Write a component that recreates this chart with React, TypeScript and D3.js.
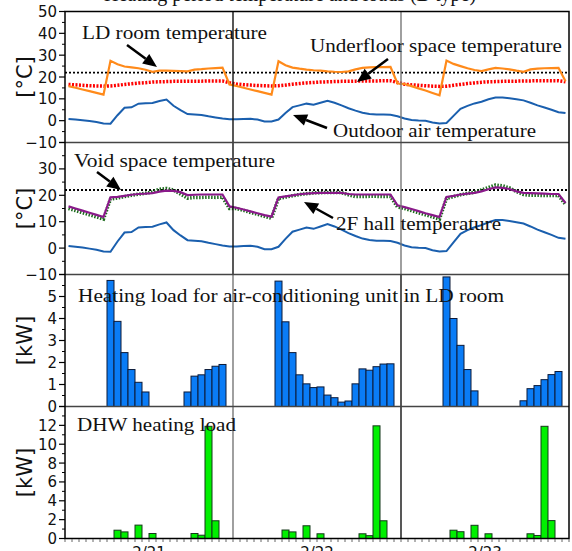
import React from "react";
import * as d3 from "d3";

// hourly values, 3 days x 24 h
const DAYS = ["2/21", "2/22", "2/23"];

const outdoorTemp = [
  0.8, 0.5, 0.2, -0.2, -0.6, -1.3, -1.4, 2.5, 5.9, 6.1, 7.8, 8.0, 8.1, 9.0, 9.7, 6.8, 4.8, 3.0, 2.8, 2.6, 2.0, 1.5, 1.0, 0.6,
  0.6, 0.8, 0.9, 0.5, -0.4, -0.4, 0.5, 3.5, 6.2, 7.0, 7.8, 7.3, 8.2, 9.1, 8.2, 7.0, 5.7, 4.6, 3.6, 3.1, 2.8, 2.8, 2.7, 2.0,
  1.0, 0.3, 0.1, 0.0, -0.8, -1.3, -1.1, 2.2, 5.4, 6.8, 7.9, 8.7, 9.8, 10.6, 10.6, 10.3, 9.8, 9.3, 8.2, 7.0, 6.0, 5.0, 3.9, 3.5,
];

const ldRoomTemp = [
  15.8, 15.1, 14.3, 13.5, 12.7, 11.9, 27.4, 25.8, 24.8, 24.4, 24.0, 23.3, 22.4, 22.9, 22.9, 22.8, 22.7, 22.6, 23.4, 23.6, 23.9, 24.1, 24.3, 16.6,
  15.9, 15.1, 14.3, 13.5, 12.7, 11.9, 27.2, 25.4, 24.3, 23.8, 23.4, 23.1, 22.9, 22.6, 22.4, 22.3, 22.6, 23.5, 24.2, 24.4, 24.5, 24.5, 24.6, 17.0,
  16.8, 15.8, 14.8, 13.8, 12.7, 11.6, 27.5, 26.0, 25.0, 24.0, 23.2, 22.7, 23.5, 24.2, 23.9, 23.5, 22.9, 22.4, 23.5, 23.8, 24.0, 24.1, 24.2, 18.0,
];

const underfloorTemp = [
  16.6, 16.4, 16.2, 16.0, 15.9, 15.8, 15.9, 16.2, 16.6, 16.9, 17.2, 17.4, 17.7, 17.8, 17.9, 18.0, 18.0, 18.1, 18.1, 18.1, 18.2, 18.2, 18.2, 17.4,
  16.8, 16.5, 16.3, 16.1, 16.0, 15.9, 16.0, 16.3, 16.7, 17.0, 17.3, 17.5, 17.7, 17.8, 17.9, 18.0, 18.0, 18.1, 18.2, 18.2, 18.2, 18.3, 18.3, 17.5,
  16.7, 16.4, 16.2, 16.0, 15.8, 15.7, 15.8, 16.2, 16.6, 17.0, 17.3, 17.6, 17.8, 17.9, 18.0, 18.1, 18.1, 18.2, 18.2, 18.3, 18.3, 18.3, 18.3, 17.8,
];

const voidTemp = [
  15.8, 15.0, 14.2, 13.4, 12.6, 11.8, 19.2, 19.4, 19.8, 20.2, 20.5, 20.6, 20.8, 21.4, 21.8, 21.7, 21.2, 20.1, 20.2, 20.3, 20.3, 20.3, 20.3, 15.8,
  15.3, 14.6, 13.9, 13.2, 12.5, 11.9, 19.2, 19.6, 20.0, 20.4, 20.6, 20.8, 20.9, 20.9, 20.9, 20.9, 20.5, 20.3, 20.3, 20.3, 20.3, 20.3, 20.3, 16.2,
  15.5, 14.8, 14.0, 13.2, 12.5, 11.8, 19.4, 19.8, 20.3, 20.6, 20.9, 21.5, 22.3, 23.0, 22.8, 22.4, 21.5, 20.9, 20.8, 20.7, 20.6, 20.5, 20.5, 17.1,
];

const hallTemp = [
  15.0, 14.2, 13.4, 12.6, 11.8, 11.0, 18.6, 19.0, 19.5, 20.0, 20.4, 20.8, 21.3, 22.3, 22.6, 22.0, 20.5, 18.9, 19.2, 19.2, 19.3, 19.2, 19.3, 15.0,
  15.0, 14.3, 13.5, 12.8, 12.0, 11.3, 18.8, 19.3, 19.8, 20.3, 20.6, 20.9, 21.0, 21.1, 21.1, 21.0, 20.2, 19.5, 19.5, 19.6, 19.6, 19.5, 19.6, 15.6,
  15.0, 14.2, 13.4, 12.6, 11.8, 11.0, 18.8, 19.5, 20.2, 20.7, 21.2, 22.0, 23.0, 23.9, 23.6, 22.8, 21.4, 20.3, 20.0, 20.0, 19.9, 19.9, 19.9, 16.5,
];

const setPoint = 22;

const ldLoad = [
  0, 0, 0, 0, 0, 0, 5.73, 3.87, 2.45, 1.68, 1.1, 0.66, 0, 0, 0, 0, 0, 0.66, 1.38, 1.44, 1.68, 1.83, 1.91, 0,
  0, 0, 0, 0, 0, 0, 5.7, 3.85, 2.45, 1.44, 1.03, 0.86, 0.89, 0.52, 0.4, 0.2, 0.25, 1.03, 1.71, 1.65, 1.81, 1.93, 1.94, 0,
  0, 0, 0, 0, 0, 0, 5.89, 4.0, 2.78, 1.68, 0.71, 0, 0, 0, 0, 0, 0, 0.26, 0.81, 0.95, 1.22, 1.45, 1.59, 0,
];

const dhwLoad = [
  0, 0, 0, 0, 0, 0, 0, 0.88, 0.7, 0, 1.42, 0, 0.53, 0, 0, 0, 0, 0, 0.53, 0.35, 11.9, 1.88, 0, 0,
  0, 0, 0, 0, 0, 0, 0, 0.9, 0.7, 0, 1.35, 0, 0.5, 0, 0, 0, 0, 0, 0.5, 0.3, 11.95, 1.88, 0, 0,
  0, 0, 0, 0, 0, 0, 0, 0.88, 0.72, 0, 1.4, 0, 0.5, 0, 0, 0, 0, 0, 0.5, 0.32, 11.9, 1.9, 0, 0,
];

const X0 = 65, X1 = 569;
const SERIF = "'Liberation Serif', 'Times New Roman', serif";
const SANS = "'DejaVu Sans', sans-serif";

function Arrow({ x1, y1, x2, y2 }) {
  const a = Math.atan2(y2 - y1, x2 - x1);
  const L = 14, Wd = 6;
  const bx = x2 - L * Math.cos(a), by = y2 - L * Math.sin(a);
  const px = -Math.sin(a) * Wd, py = Math.cos(a) * Wd;
  return (
    <g>
      <line x1={x1} y1={y1} x2={bx} y2={by} stroke="#000" strokeWidth={2.5} />
      <polygon points={`${x2},${y2} ${bx + px},${by + py} ${bx - px},${by - py}`} fill="#000" />
    </g>
  );
}

function Label({ x, y, w, children, size = 18 }) {
  return (
    <text x={x} y={y} fontFamily={SERIF} fontSize={size} textLength={w} lengthAdjust="spacingAndGlyphs" fill="#111">
      {children}
    </text>
  );
}

function YAxis({ y, labels, ticks, minor, title }) {
  const [b, t] = y.range();
  return (
    <g>
      {ticks.map(v => <line key={"t" + v} x1={59} x2={X0} y1={y(v)} y2={y(v)} stroke="#000" strokeWidth={1.2} />)}
      {minor.map(v => <line key={"m" + v} x1={62} x2={X0} y1={y(v)} y2={y(v)} stroke="#000" strokeWidth={1} />)}
      {labels.map(v => (
        <text key={"l" + v} x={57} y={y(v) + 5.5} textAnchor="end" fontFamily={SANS} fontSize={15} fill="#111">
          {v < 0 ? "\u2212" + Math.abs(v) : v}
        </text>
      ))}
      <text transform={`translate(32,${(b + t) / 2}) rotate(-90)`} textAnchor="middle" fontFamily={SANS} fontSize={21} fill="#111">
        {title}
      </text>
    </g>
  );
}

export default function App() {
  const x = d3.scaleLinear().domain([0, 72]).range([X0, X1]);
  const yT1 = d3.scaleLinear().domain([-10, 50]).range([142.5, 11.5]);
  const yT2 = d3.scaleLinear().domain([-10, 40]).range([274.5, 142.5]);
  const yL = d3.scaleLinear().domain([0, 6]).range([406.5, 274.5]);
  const yD = d3.scaleLinear().domain([0, 14]).range([538.5, 406.5]);

  const path = (y, vals) => d3.line<number>().x((_, i) => x(i + 0.5)).y(d => y(d))(vals);

  const bars = (y, vals, fill, stroke) =>
    vals.map((v, i) => v > 0 ? (
      <rect key={i} x={x(i)} y={y(v)} width={x(i + 1) - x(i)} height={y(0) - y(v)} fill={fill} stroke={stroke} strokeWidth={1} />
    ) : null);

  const panels = [yT1, yT2, yL, yD];
  const dayEdges = [24, 48];

  return (
    <svg width={572} height={551} style={{ position: "absolute", left: 0, top: 0, background: "#fff" }}>
      <rect width={572} height={551} fill="#fff" />
      {/* title sits above the frame and is clipped like in the source figure */}
      <text x={290} y={0.5} textAnchor="middle" fontFamily={SERIF} fontSize={20} fill="#111">
        Heating period temperature and loads (B type)
      </text>

      {/* panel 1 */}
      <line x1={X0} x2={X1} y1={yT1(setPoint)} y2={yT1(setPoint)} stroke="#000" strokeWidth={1.8} strokeDasharray="2,2" />
      <path d={path(yT1, underfloorTemp)} fill="none" stroke="#f00" strokeWidth={3.5} strokeDasharray="2,1.5" />
      <path d={path(yT1, ldRoomTemp)} fill="none" stroke="#ff8a1a" strokeWidth={2.2} />
      <path d={path(yT1, outdoorTemp)} fill="none" stroke="#1a5fae" strokeWidth={2} />

      {/* panel 2 */}
      <line x1={X0} x2={X1} y1={yT2(setPoint)} y2={yT2(setPoint)} stroke="#000" strokeWidth={1.8} strokeDasharray="2,2" />
      <path d={path(yT2, hallTemp)} fill="none" stroke="#1c6b1c" strokeWidth={3.5} strokeDasharray="1.5,1.5" />
      <path d={path(yT2, voidTemp)} fill="none" stroke="#8a1a8a" strokeWidth={2.2} />
      <path d={path(yT2, outdoorTemp)} fill="none" stroke="#1a5fae" strokeWidth={2} />

      {/* panel 3, 4 */}
      {bars(yL, ldLoad, "#0a7cf6", "#0c1a38")}
      {bars(yD, dhwLoad, "#00f000", "#15381a")}

      {/* day separators */}
      {panels.map((y, p) => dayEdges.map((d, k) => (
        <line key={p + "-" + d} x1={x(d)} x2={x(d)} y1={y.range()[1]} y2={y.range()[0]}
          stroke={(p < 2) === (k === 0) ? "#111" : "#777"} strokeWidth={1.4} />
      )))}
      {panels.slice(1).map((y, p) => (
        <line key={"h" + p} x1={X0} x2={X1} y1={y.range()[1]} y2={y.range()[1]} stroke="#444" strokeWidth={1.6} />
      ))}
      <rect x={X0} y={11.5} width={X1 - X0} height={527} fill="none" stroke="#000" strokeWidth={1.5} />
      {d3.range(73).map(i => (
        <line key={"x" + i} x1={x(i)} x2={x(i)} y1={539} y2={542} stroke="#666" strokeWidth={1} />
      ))}

      <YAxis y={yT1} labels={d3.range(-10, 51, 10)} ticks={d3.range(-10, 51, 10)} minor={d3.range(-5, 50, 10)} title="[°C]" />
      <YAxis y={yT2} labels={d3.range(-10, 31, 10)} ticks={d3.range(-10, 41, 10)} minor={d3.range(-5, 40, 10)} title="[°C]" />
      <YAxis y={yL} labels={d3.range(0, 6)} ticks={d3.range(0, 7)} minor={d3.range(0.5, 6, 1)} title="[kW]" />
      <YAxis y={yD} labels={d3.range(0, 13, 2)} ticks={d3.range(0, 15, 2)} minor={d3.range(1, 14, 2)} title="[kW]" />

      {DAYS.map((d, i) => (
        <text key={d} x={x(i * 24 + 12)} y={558} textAnchor="middle" fontFamily={SANS} fontSize={15} fill="#111">{d}</text>
      ))}

      {/* annotations */}
      <Label x={82} y={39} w={185}>LD room temperature</Label>
      <Arrow x1={127} y1={45} x2={157} y2={67} />
      <Label x={310} y={51.5} w={252}>Underfloor space temperature</Label>
      <Arrow x1={388} y1={59} x2={357} y2={82} />
      <Label x={333} y={137} w={203}>Outdoor air temperature</Label>
      <Arrow x1={327} y1={128} x2={293} y2={115} />
      <Label x={74} y={166.5} w={201}>Void space temperature</Label>
      <Arrow x1={97} y1={172} x2={121} y2={190} />
      <Label x={336} y={230} w={165}>2F hall temperature</Label>
      <Arrow x1={333} y1={218} x2={304} y2={202} />
      <Label x={78} y={302} w={426}>Heating load for air-conditioning unit in LD room</Label>
      <Label x={77} y={431} w={159}>DHW heating load</Label>
    </svg>
  );
}
